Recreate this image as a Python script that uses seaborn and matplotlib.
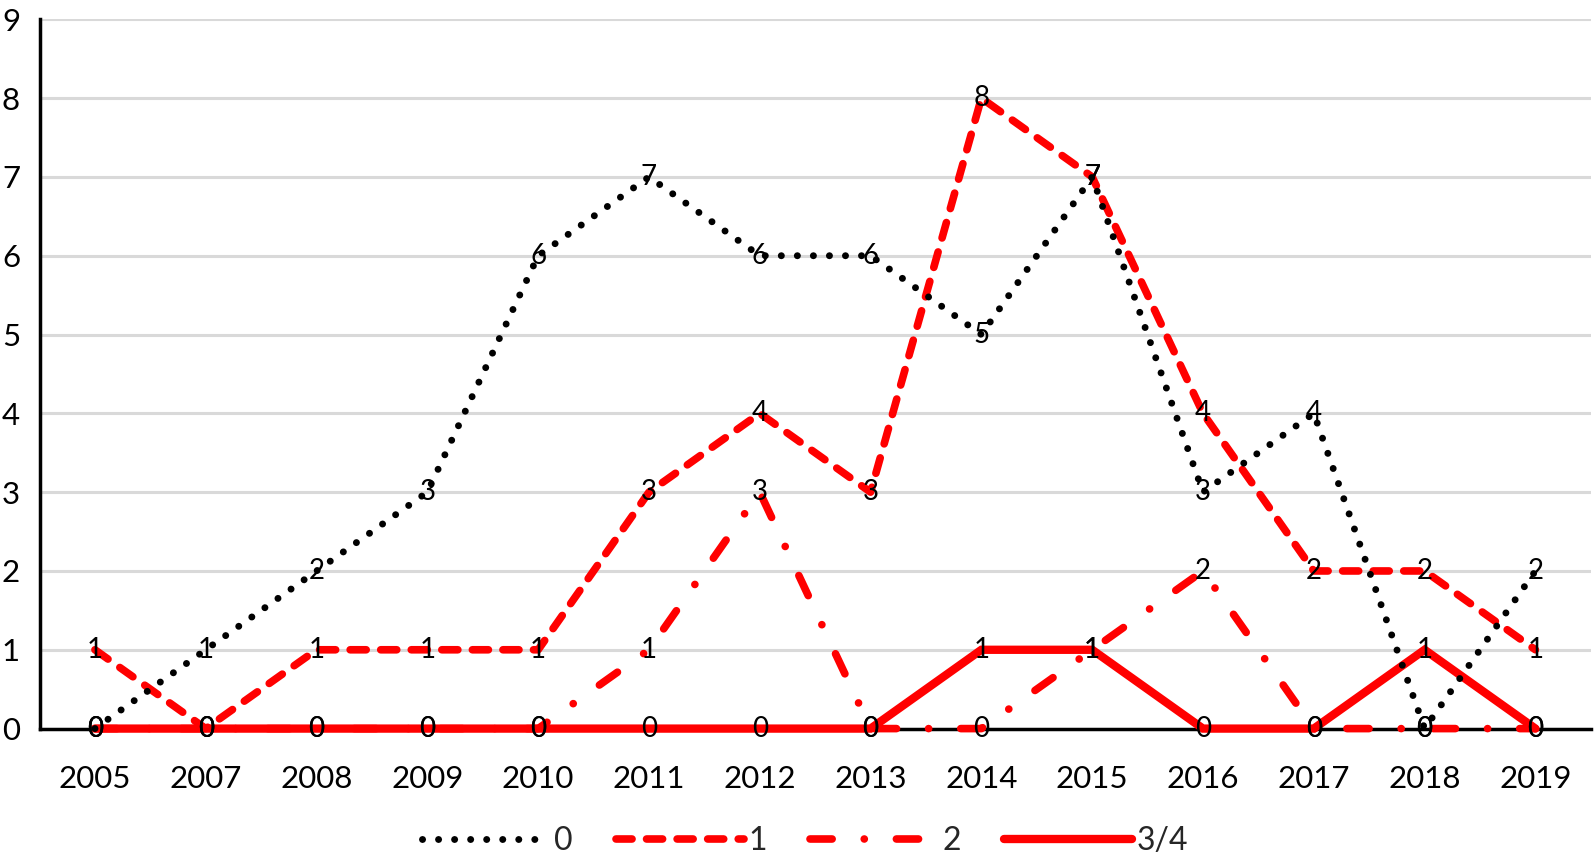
import matplotlib
matplotlib.use("Agg")
import matplotlib.pyplot as plt
import seaborn as sns
import numpy as np

years = ["2005", "2007", "2008", "2009", "2010", "2011", "2012",
         "2013", "2014", "2015", "2016", "2017", "2018", "2019"]
s0 = [0, 1, 2, 3, 6, 7, 6, 6, 5, 7, 3, 4, 0, 2]
s1 = [1, 0, 1, 1, 1, 3, 4, 3, 8, 7, 4, 2, 2, 1]
s2 = [0, 0, 0, 0, 0, 1, 3, 0, 0, 1, 2, 0, 0, 0]
s34 = [0, 0, 0, 0, 0, 0, 0, 0, 1, 1, 0, 0, 1, 0]
series_names = ["0", "1", "2", "3/4"]

sns.set_theme(style="white")
FONT = ["Lato", "DejaVu Sans"]
plt.rcParams["font.family"] = FONT

fig = plt.figure(figsize=(15.94, 8.65), dpi=100)
ax = fig.add_axes([0.0248, 0.1577, 0.9732, 0.82])

x = np.arange(len(years))

styles = {
    "0": dict(color="black", linewidth=5.0, linestyle=(0, (0.01, 2.3))),
    "1": dict(color="#ff0000", linewidth=5.5, linestyle=(0, (2.1, 1.9))),
    "2": dict(color="#ff0000", linewidth=5.5, linestyle=(0, (2.9, 4.2, 0.01, 4.2))),
    "3/4": dict(color="#ff0000", linewidth=6.0, linestyle="-"),
}
data = {"0": s0, "1": s1, "2": s2, "3/4": s34}

handles = {}
for z, name in enumerate(["3/4", "2", "1", "0"]):
    st = styles[name]
    sns.lineplot(x=x, y=data[name], ax=ax, color=st["color"], linewidth=st["linewidth"],
                 linestyle=st["linestyle"], label=name, zorder=3 + z, clip_on=False)
    ln = ax.lines[-1]
    ln.set_dash_capstyle("round")
    ln.set_solid_capstyle("round")
    ln.set_solid_joinstyle("miter")
    handles[name] = ln

# data labels
for name in series_names:
    for xi, v in zip(x, data[name]):
        ax.text(xi, v, str(v), ha="center", va="center", fontsize=20,
                color="black", zorder=10, family=FONT)

ax.set_xlim(-0.5, len(years) - 0.5)
ax.set_ylim(0, 9)
ax.set_yticks(range(0, 10))
ax.set_xticks(x)
ax.set_xticklabels(years)
ax.tick_params(axis="both", length=0, labelsize=22.5, colors="black")
ax.tick_params(axis="x", pad=26)
ax.tick_params(axis="y", pad=14)
ax.yaxis.grid(True, color="#d9d9d9", linewidth=2.2, zorder=0)
ax.xaxis.grid(False)
ax.set_axisbelow(True)
for sp in ["top", "right"]:
    ax.spines[sp].set_visible(False)
ax.spines["left"].set_color("black")
ax.spines["left"].set_linewidth(2.5)
ax.spines["bottom"].set_color("black")
ax.spines["bottom"].set_linewidth(2.5)
ax.set_xlabel("")
ax.set_ylabel("")

leg = ax.legend([handles[n] for n in series_names], series_names,
                loc="center", bbox_to_anchor=(805 / 1594, 24 / 865),
                bbox_transform=fig.transFigure, ncol=4, frameon=False,
                fontsize=23, handlelength=4.0, handletextpad=0.15,
                columnspacing=1.35)

fig.savefig("out.png", dpi=100)
